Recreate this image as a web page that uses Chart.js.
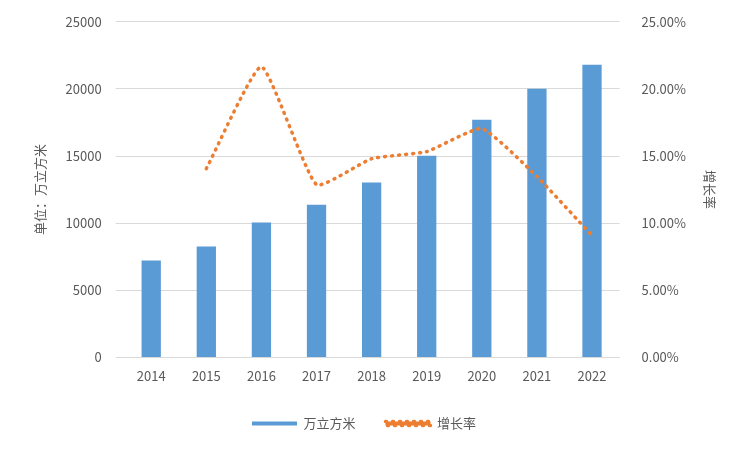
<!DOCTYPE html>
<html><head><meta charset="utf-8">
<script src="https://cdn.jsdelivr.net/npm/chart.js@4"></script>
<style>body{margin:0;background:#fff}#wrap{width:750px;height:450px}</style>
</head><body><div id="wrap"><canvas id="c"></canvas></div>
<script>
const years = ["2014","2015","2016","2017","2018","2019","2020","2021","2022"];
const volume = [7220, 8260, 10040, 11380, 13020, 15030, 17710, 20010, 21800];
const growth = [null, 14.06, 21.65, 12.87, 14.8, 15.33, 17.04, 13.47, 9.08];

const font = { family: "'Noto Sans CJK SC', 'Liberation Sans', sans-serif", size: 13 };
Chart.defaults.color = "#595959";

// right axis title, rotated clockwise like the original
const rightTitle = {
  id: "rightTitle",
  afterDraw(chart) {
    const c = chart.ctx, a = chart.chartArea;
    c.save();
    c.translate(710, (a.top + a.bottom) / 2);
    c.rotate(Math.PI / 2);
    c.font = "13px " + font.family;
    c.fillStyle = "#595959";
    c.textAlign = "center";
    c.textBaseline = "middle";
    c.fillText("增长率", 0, 0);
    c.restore();
  }
};

new Chart(document.getElementById("c"), {
  data: {
    labels: years,
    datasets: [
      { type: "bar", label: "万立方米", data: volume, backgroundColor: "#5B9BD5",
        yAxisID: "y", barPercentage: 0.35, categoryPercentage: 1, order: 2 },
      { type: "line", label: "增长率", data: growth, borderColor: "#ED7D31",
        backgroundColor: "#ED7D31", borderWidth: 3.5, borderDash: [1, 6], borderCapStyle: "round",
        pointRadius: 0, tension: 0.15, yAxisID: "y1", order: 1 }
    ]
  },
  options: {
    responsive: true, maintainAspectRatio: false, animation: false,
    layout: { padding: { left: 28, right: 50, top: 15, bottom: 10 } },
    plugins: {
      legend: { position: "bottom",
        labels: { font: font, boxWidth: 45, boxHeight: 4, padding: 30,
          sort: (a, b) => a.datasetIndex - b.datasetIndex } },
      tooltip: { enabled: false }
    },
    scales: {
      x: { grid: { display: false }, border: { color: "#d9d9d9" }, ticks: { font: font } },
      y: { min: 0, max: 25000, ticks: { stepSize: 5000, font: font, padding: 14,
          callback: v => String(v) },
        grid: { color: "#d9d9d9" }, border: { display: false },
        title: { display: true, text: "单位：万立方米", font: font } },
      y1: { position: "right", min: 0, max: 25, ticks: { stepSize: 5, font: font, padding: 14,
          callback: v => v.toFixed(2) + "%" },
        grid: { display: false }, border: { display: false } }
    }
  },
  plugins: [rightTitle]
});
</script></body></html>
